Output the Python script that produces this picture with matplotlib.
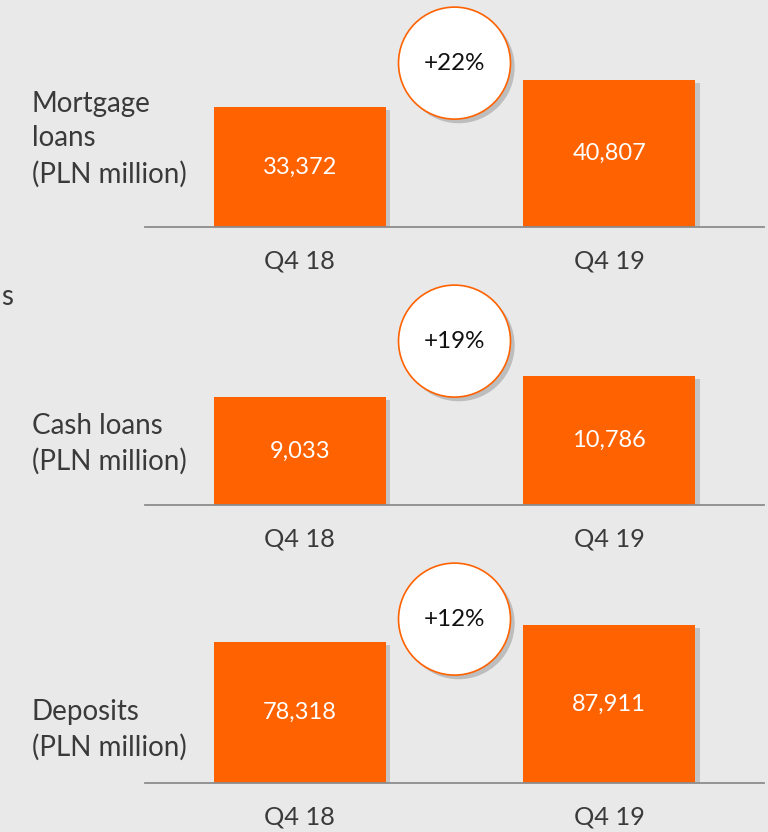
import matplotlib
matplotlib.use("Agg")
import matplotlib.pyplot as plt
import matplotlib.patheffects as pe
from matplotlib.transforms import blended_transform_factory

# data
quarters = ["Q4 18", "Q4 19"]
mortgage = [33372, 40807]
cash = [9033, 10786]
deposits = [78318, 87911]
growth = ["+22%", "+19%", "+12%"]
titles = ["Mortgage\nloans\n(PLN million)", "Cash loans\n(PLN million)", "Deposits\n(PLN million)"]

ORANGE = "#ff6200"
BG = "#e9e9e9"
TXT = "#3a3a3a"

plt.rcParams["font.family"] = ["Lato", "DejaVu Sans"]

fig = plt.figure(figsize=(7.68, 8.32), dpi=100, facecolor=BG)
W, H = 768, 832

# (baseline px, bar1 height px, label centre px)
panels = [(227, 120, 139), (505, 108, 444), (783, 141, 730)]
series = [mortgage, cash, deposits]

for (base, h1, ty), vals, g, title in zip(panels, series, growth, titles):
    ax = fig.add_axes([145 / W, 1 - base / H, 619 / W, 220 / H])
    ax.set_facecolor(BG)
    ymax = vals[0] * 220 / h1
    bars = ax.bar(range(len(vals)), vals, width=0.557, color=ORANGE, zorder=2)
    for b in bars:
        b.set_path_effects([pe.SimplePatchShadow(offset=(3, -2), shadow_rgbFace="#999999", alpha=0.45), pe.Normal()])
    for i, v in enumerate(vals):
        ax.text(i, v / 2, f"{v:,}", ha="center", va="center", color="white", fontsize=17, zorder=3)
    ax.set_xlim(-0.5, 1.5)
    ax.set_ylim(0, ymax)
    ax.set_xticks(range(len(vals)))
    ax.set_xticklabels(quarters, fontsize=18.3, color=TXT)
    ax.tick_params(length=0, pad=16)
    ax.set_yticks([])
    for s in ["top", "left", "right"]:
        ax.spines[s].set_visible(False)
    ax.spines["bottom"].set_color("#8c8c8c")
    ax.spines["bottom"].set_linewidth(1.3)

    tr = blended_transform_factory(ax.transData, ax.transAxes)
    ax.scatter([0.5], [0.745], s=6500, transform=tr, facecolor="white", edgecolor=ORANGE,
               linewidth=1.2, clip_on=False, zorder=4,
               path_effects=[pe.SimplePatchShadow(offset=(3, -3), shadow_rgbFace="#888888", alpha=0.45), pe.Normal()])
    ax.text(0.5, 0.745, g, transform=tr, ha="center", va="center", fontsize=17.4, color="#111111", zorder=5)

    fig.text(32 / W, 1 - ty / H, title, ha="left", va="center", fontsize=20, color=TXT, linespacing=1.42)

# leftover letter at the left edge of the slide
fig.text(1 / W, 1 - 297 / H, "s", ha="left", va="center", fontsize=20, color=TXT)

fig.savefig("out.png", dpi=100, facecolor=BG)
